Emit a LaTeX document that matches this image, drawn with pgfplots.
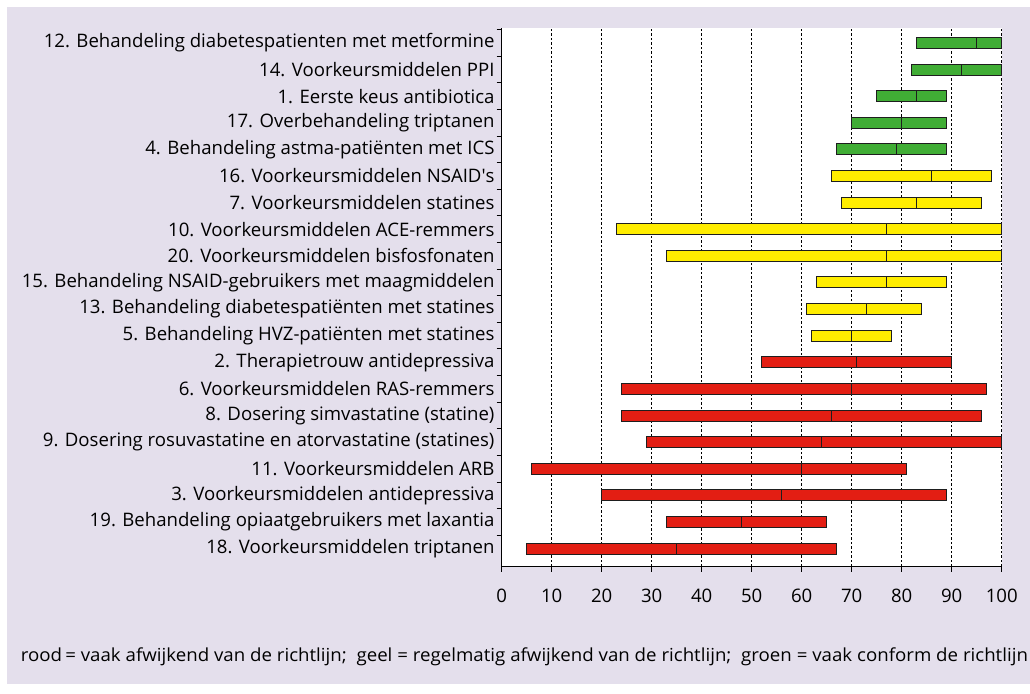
\documentclass[border=0pt]{standalone}
\usepackage{fontspec}
\setmainfont{Open Sans}
\usepackage{graphicx}
\usepackage{pgfplots}
\pgfplotsset{compat=1.18}
\usepackage{pgfplotstable}
\definecolor{bg}{HTML}{E4DFEC}
\definecolor{grn}{HTML}{40AD35}
\definecolor{yel}{HTML}{FFED00}
\definecolor{rd}{HTML}{E31E13}
\definecolor{edge}{HTML}{1E1E1E}

% y: position (0 = bottom), g: 1 groen, 2 geel, 3 rood
\pgfplotstableread{
y min med max g
19 83 95 100 1
18 82 92 100 1
17 75 83 89 1
16 70 80 89 1
15 67 79 89 1
14 66 86 98 2
13 68 83 96 2
12 23 77 100 2
11 33 77 100 2
10 63 77 89 2
9 61 73 84 2
8 62 70 78 2
7 52 71 90 3
6 24 70 97 3
5 24 66 96 3
4 29 64 100 3
3 6 60 81 3
2 20 56 89 3
1 33 48 65 3
0 5 35 67 3
}\data

\begin{document}
\begin{tikzpicture}
\fill[white] (0,0) rectangle (1030pt,693pt);
\path[use as bounding box] (0,0) rectangle (1030pt,693pt);
\fill[bg] (6.5pt,9.5pt) rectangle (1030pt,685.5pt);
\begin{axis}[
  at={(501.7pt,126.3pt)}, anchor=south west,
  scale only axis, width=500pt, height=538.4pt,
  xmin=0, xmax=100, ymin=-0.68, ymax=19.55,
  axis x line*=bottom, axis y line*=left,
  axis line style={black, line width=1.4pt},
  axis background/.style={fill=white},
  xbar stacked, bar width=11pt,
  xtick={0,10,...,100},
  ytick={0.5,1.5,...,19.5},
  yticklabels={
    18. Voorkeursmiddelen triptanen,
    19. Behandeling opiaatgebruikers met laxantia,
    3. Voorkeursmiddelen antidepressiva,
    11. Voorkeursmiddelen ARB,
    9. Dosering rosuvastatine en atorvastatine (statines),
    8. Dosering simvastatine (statine),
    6. Voorkeursmiddelen RAS-remmers,
    2. Therapietrouw antidepressiva,
    5. Behandeling HVZ-patiënten met statines,
    13. Behandeling diabetespatiënten met statines,
    15. Behandeling NSAID-gebruikers met maagmiddelen,
    20. Voorkeursmiddelen bisfosfonaten,
    10. Voorkeursmiddelen ACE-remmers,
    7. Voorkeursmiddelen statines,
    16. Voorkeursmiddelen NSAID\textquotesingle s,
    4. Behandeling astma-patiënten met ICS,
    17. Overbehandeling triptanen,
    1. Eerste keus antibiotica,
    14. Voorkeursmiddelen PPI,
    12. Behandeling diabetespatienten met metformine},
  yticklabel style={anchor=east, inner sep=0pt, yshift=-13.3pt, xshift=-2pt},
  tick align=outside,
  major tick length=5pt,
  tick style={black, line width=1pt},
  xmajorgrids,
  major x grid style={black, line width=0.7pt, dash pattern=on 2.5pt off 2pt},
  tick label style={font=\fontsize{18.6pt}{22pt}\selectfont},
  /pgf/number format/assume math mode=true,
  xticklabel style={anchor=north, inner sep=0pt, yshift=-17pt},
  clip=false,
]
\addplot[draw=none, fill=none] table[y=y, x=min] {\data};
\addplot[fill=grn, draw=edge, line width=1pt] table[y=y, x expr={\thisrow{g}==1 ? \thisrow{med}-\thisrow{min} : 0}] {\data};
\addplot[fill=grn, draw=edge, line width=1pt] table[y=y, x expr={\thisrow{g}==1 ? \thisrow{max}-\thisrow{med} : 0}] {\data};
\addplot[fill=yel, draw=edge, line width=1pt] table[y=y, x expr={\thisrow{g}==2 ? \thisrow{med}-\thisrow{min} : 0}] {\data};
\addplot[fill=yel, draw=edge, line width=1pt] table[y=y, x expr={\thisrow{g}==2 ? \thisrow{max}-\thisrow{med} : 0}] {\data};
\addplot[fill=rd, draw=edge, line width=1pt] table[y=y, x expr={\thisrow{g}==3 ? \thisrow{med}-\thisrow{min} : 0}] {\data};
\addplot[fill=rd, draw=edge, line width=1pt] table[y=y, x expr={\thisrow{g}==3 ? \thisrow{max}-\thisrow{med} : 0}] {\data};
\end{axis}
\node[anchor=base west, inner sep=0pt] at (20.7pt,31.3pt)
  {\resizebox{1007pt}{\height}{\fontsize{18pt}{22pt}\selectfont rood\,= vaak afwijkend van de richtlijn;\ \ geel = regelmatig afwijkend van de richtlijn;\ \ groen = vaak conform de richtlijn}};
\end{tikzpicture}
\end{document}
